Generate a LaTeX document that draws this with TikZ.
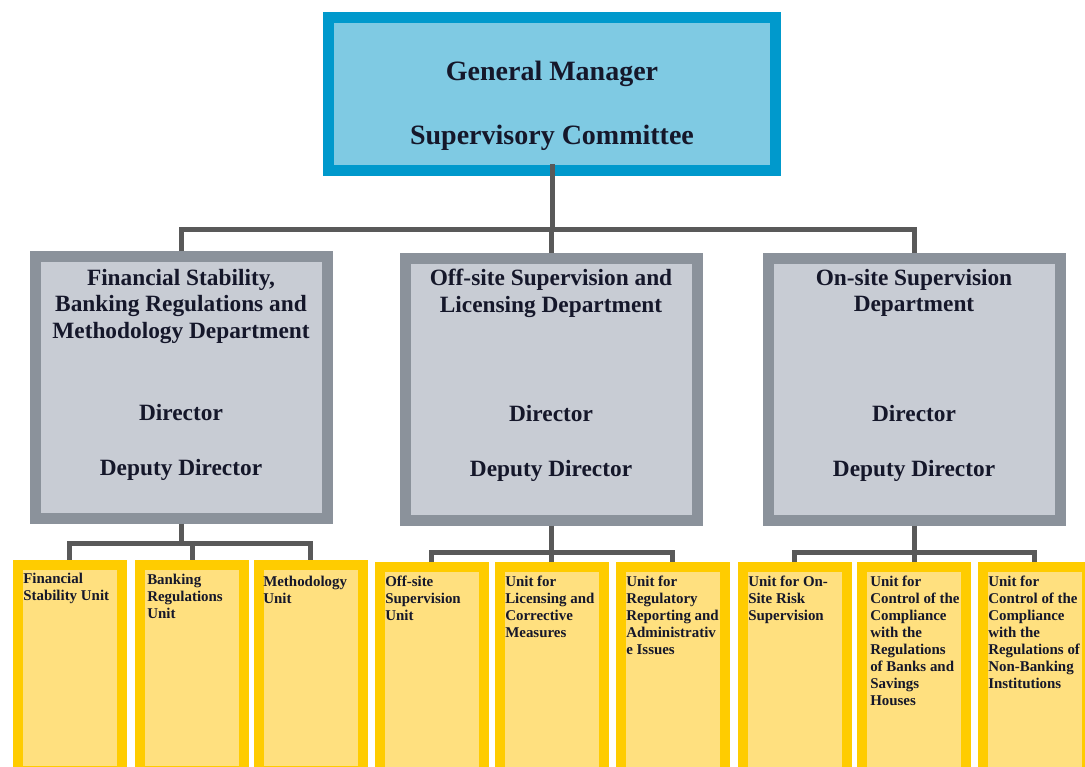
\documentclass[tikz,border=0pt]{standalone}
\usepackage{fontspec}
\setmainfont{Liberation Serif}[BoldFont={Liberation Serif Bold}]
\usepackage{xcolor}
\usetikzlibrary{positioning}
\definecolor{gmborder}{HTML}{0099CC}
\definecolor{gmfill}{HTML}{7FCAE3}
\definecolor{deptborder}{HTML}{8B929B}
\definecolor{deptfill}{HTML}{C8CCD4}
\definecolor{unitborder}{HTML}{FFCC00}
\definecolor{unitfill}{HTML}{FFE07F}
\definecolor{linkgray}{HTML}{595959}
\definecolor{textnavy}{HTML}{15172A}
\tikzset{
  gmbox/.style={rectangle, draw=gmborder, fill=gmfill, line width=8.25pt, minimum width=335pt, minimum height=115pt, inner sep=0pt},
  deptbox/.style={rectangle, draw=deptborder, fill=deptfill, line width=8.25pt, minimum width=219pt, minimum height=196.5pt, inner sep=0pt},
  unitbox/.style={rectangle, draw=unitborder, fill=unitfill, line width=7.5pt, minimum width=78pt, minimum height=154.5pt, inner sep=0pt},
  gmtext/.style={text=textnavy, inner sep=0pt, anchor=base, font=\fontsize{21}{25}\selectfont\bfseries},
  depttext/.style={text=textnavy, inner sep=0pt, align=center, font=\fontsize{17.5}{19.9}\selectfont\bfseries},
  unittext/.style={text=textnavy, inner sep=0pt, anchor=north west, align=left, font=\fontsize{11.2}{12.75}\selectfont\bfseries},
  link/.style={draw=linkgray, line width=3.75pt}
}

\begin{document}
\begin{tikzpicture}[x=0.75pt, y=-0.75pt]
    \clip (0,0) rectangle (1085,767);
    \fill[white] (0,0) rectangle (1085,767);

    % Top box
    \node[gmbox] (gm) at (552,94) {};
    \node[gmtext] (gmname) at (552,81) {General Manager};
    \node[gmtext] (gmcomm) at (552,144) {Supervisory Committee};

    % Departments
    \node[deptbox] (fsd) at (181,387) {};
    \node[deptbox] (osd) at (551,389) {};
    \node[deptbox] (ond) at (914,389) {};

    \node[depttext, anchor=north] (fstitle) at (181,269) {Financial Stability,\\Banking Regulations and\\Methodology Department};
    \node[depttext, anchor=north] (ostitle) at (551,269) {Off-site Supervision and\\Licensing Department};
    \node[depttext, anchor=north] (ontitle) at (914,269) {On-site Supervision\\Department};

    \node[depttext, anchor=base] (fsdir) at (181,420) {Director};
    \node[depttext, anchor=base] (fsdep) at (181,475) {Deputy Director};
    \node[depttext, anchor=base] (osdir) at (551,421) {Director};
    \node[depttext, anchor=base] (osdep) at (551,476) {Deputy Director};
    \node[depttext, anchor=base] (ondir) at (914,421) {Director};
    \node[depttext, anchor=base] (ondep) at (914,476) {Deputy Director};

    % Units
    \node[unitbox] (fsu) at (69.5,668) {};
    \node[unitbox] (bru) at (192,668) {};
    \node[unitbox] (mu) at (310.5,668) {};
    \node[unitbox] (osu) at (431.5,670) {};
    \node[unitbox] (lcu) at (551.5,670) {};
    \node[unitbox] (rru) at (672.5,670) {};
    \node[unitbox] (rsu) at (794.5,670) {};
    \node[unitbox] (cbu) at (914,670) {};
    \node[unitbox] (cnu) at (1034.5,670) {};

    \node[unittext] (fsutext) at (23,573) {Financial\\Stability Unit};
    \node[unittext] (brutext) at (147,574) {Banking\\Regulations\\Unit};
    \node[unittext] (mutext) at (263,576) {Methodology\\Unit};
    \node[unittext] (osutext) at (385,576) {Off-site\\Supervision\\Unit};
    \node[unittext] (lcutext) at (505,576) {Unit for\\Licensing and\\Corrective\\Measures};
    \node[unittext] (rrutext) at (626,576) {Unit for\\Regulatory\\Reporting and\\Administrativ\\e Issues};
    \node[unittext] (rsutext) at (748,576) {Unit for On-\\Site Risk\\Supervision};
    \node[unittext] (cbutext) at (870,576) {Unit for\\Control of the\\Compliance\\with the\\Regulations\\of Banks and\\Savings\\Houses};
    \node[unittext] (cnutext) at (988,576) {Unit for\\Control of the\\Compliance\\with the\\Regulations of\\Non-Banking\\Institutions};

    % Connectors
    \coordinate (topbus) at (552,229);
    \coordinate (fsbus) at (181,543);
    \coordinate (osbus) at (551,552);
    \coordinate (onbus) at (914,552);

    \draw[link] ([yshift=9pt]gm.south) -- (topbus);
    \draw[link] (topbus) -| (fsd.north);
    \draw[link] (topbus) -| (osd.north);
    \draw[link] (topbus) -| (ond.north);

    \draw[link] (fsd.south) -- (fsbus);
    \draw[link] (fsbus) -| (fsu.north);
    \draw[link] (fsbus) -| (bru.north);
    \draw[link] (fsbus) -| (mu.north);

    \draw[link] (osd.south) -- (osbus);
    \draw[link] (osbus) -| (osu.north);
    \draw[link] (osbus) -| (lcu.north);
    \draw[link] (osbus) -| (rru.north);

    \draw[link] (ond.south) -- (onbus);
    \draw[link] (onbus) -| (rsu.north);
    \draw[link] (onbus) -| (cbu.north);
    \draw[link] (onbus) -| (cnu.north);
\end{tikzpicture}
\end{document}
